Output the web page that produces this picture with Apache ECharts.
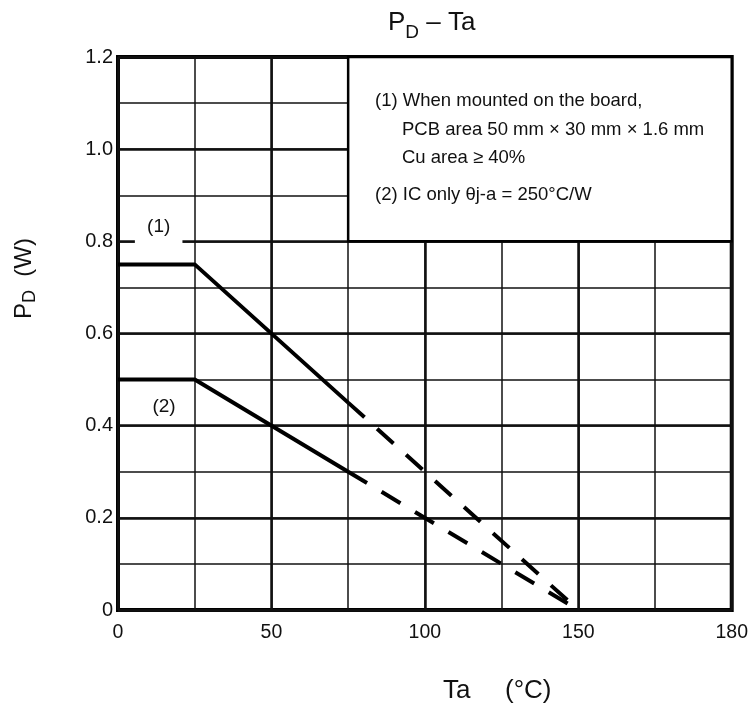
<!DOCTYPE html>
<html>
<head>
<meta charset="utf-8">
<script src="https://cdn.jsdelivr.net/npm/echarts@6/dist/echarts.min.js"></script>
<style>html,body{margin:0;padding:0;background:#fff}#c{width:751px;height:706px}</style>
</head>
<body>
<div id="c"></div>
<script>
// ---- data ----
const xTickValues = [0, 50, 100, 150, 200];
const xTickLabels = ['0', '50', '100', '150', '180'];
const curve1Solid = [[0, 0.75], [25, 0.75], [75, 0.45]];
const curve1Dashed = [[75, 0.45], [150, 0]];
const curve2Solid = [[0, 0.5], [25, 0.5], [75, 0.3]];
const curve2Dashed = [[75, 0.3], [150, 0]];
const noteLines = [
  '(1) When mounted on the board,',
  'PCB area 50 mm \u00d7 30 mm \u00d7 1.6 mm',
  'Cu area \u2265 40%',
  '(2) IC only \u03b8j-a = 250\u00b0C/W'
];
const boxArea = [[75, 0.8], [200, 1.2]];
const label1Area = [[5.5, 0.79], [21, 0.81]];
const label2Pos = [15, 0.44];

const FONT = '"Liberation Sans", Arial, sans-serif';
const chart = echarts.init(document.getElementById('c'));
const lineStyleSolid = { color: '#000', width: 4, type: 'solid', cap: 'butt' };
const lineStyleDash = { color: '#000', width: 4, type: [22, 17], cap: 'butt' };

const option = {
  animation: false,
  backgroundColor: '#fff',
  grid: { left: 118, right: 19, top: 57, bottom: 96, show: true, borderColor: '#000', borderWidth: 4, backgroundColor: 'transparent' },
  xAxis: [
    { type: 'value', min: 0, max: 200, interval: 25, position: 'bottom',
      axisLine: { show: false }, axisTick: { show: false }, axisLabel: { show: false },
      splitLine: { show: true, lineStyle: { color: '#111', width: 1.5 } } },
    { type: 'value', min: 0, max: 200, interval: 50, position: 'bottom',
      axisLine: { show: false }, axisTick: { show: false },
      axisLabel: { show: true, margin: 13, fontSize: 19.5, color: '#111', fontFamily: FONT,
        formatter: v => xTickLabels[xTickValues.indexOf(v)] },
      splitLine: { show: true, lineStyle: { color: '#111', width: 2.5 } } }
  ],
  yAxis: [
    { type: 'value', min: 0, max: 1.2, interval: 0.1,
      axisLine: { show: false }, axisTick: { show: false }, axisLabel: { show: false },
      splitLine: { show: true, lineStyle: { color: '#111', width: 1.5 } } },
    { type: 'value', min: 0, max: 1.2, interval: 0.2, position: 'left',
      axisLine: { show: false }, axisTick: { show: false },
      axisLabel: { show: true, margin: 5, fontSize: 20, color: '#111', fontFamily: FONT,
        formatter: v => v === 0 ? '0' : v.toFixed(1) },
      splitLine: { show: true, lineStyle: { color: '#111', width: 2.5 } } }
  ],
  series: [
    { type: 'line', xAxisIndex: 1, yAxisIndex: 1, data: [], silent: true,
      markArea: { silent: true,
        itemStyle: { color: '#fff', borderColor: '#000', borderWidth: 2.5 },
        data: [[{ coord: boxArea[0] }, { coord: boxArea[1] }]] } },
    { type: 'line', xAxisIndex: 1, yAxisIndex: 1, data: [], silent: true,
      markArea: { silent: true,
        itemStyle: { color: '#fff', borderWidth: 0 },
        label: { show: true, position: 'top', distance: 0, formatter: '(1)', fontSize: 19, color: '#111', fontFamily: FONT },
        data: [[{ coord: label1Area[0] }, { coord: label1Area[1] }]] },
      markPoint: { silent: true, symbol: 'circle', symbolSize: 1, itemStyle: { color: 'transparent' },
        label: { show: true, position: 'inside', formatter: '(2)', fontSize: 19, color: '#111', fontFamily: FONT },
        data: [{ coord: label2Pos }] } },
    { type: 'line', xAxisIndex: 1, yAxisIndex: 1, data: curve1Solid, showSymbol: false, lineStyle: lineStyleSolid, z: 5 },
    { type: 'line', xAxisIndex: 1, yAxisIndex: 1, data: curve1Dashed, showSymbol: false, lineStyle: lineStyleDash, z: 5 },
    { type: 'line', xAxisIndex: 1, yAxisIndex: 1, data: curve2Solid, showSymbol: false, lineStyle: lineStyleSolid, z: 5 },
    { type: 'line', xAxisIndex: 1, yAxisIndex: 1, data: curve2Dashed, showSymbol: false, lineStyle: lineStyleDash, z: 5 }
  ],
  graphic: [
    { type: 'text', left: 388, top: 10, z: 100,
      style: { text: '{p|P}{s|D}{p| \u2013 Ta}', rich: {
        p: { fontSize: 26, fontFamily: FONT, fill: '#111', verticalAlign: 'bottom' },
        s: { fontSize: 19, fontFamily: FONT, fill: '#111', verticalAlign: 'bottom', padding: [0, 0, -6, 0] } } } },
    { type: 'text', left: 443, top: 678, z: 100,
      style: { text: 'Ta', fontSize: 26, fontFamily: FONT, fill: '#111' } },
    { type: 'text', left: 505, top: 678, z: 100,
      style: { text: '(\u00b0C)', fontSize: 26, fontFamily: FONT, fill: '#111' } },
    { type: 'text', x: 9, y: 319, rotation: Math.PI / 2, z: 100,
      style: { text: '{p|P}{s|D}{p|  (W)}', rich: {
        p: { fontSize: 24, fontFamily: FONT, fill: '#111' },
        s: { fontSize: 18, fontFamily: FONT, fill: '#111', padding: [12, 0, 0, 0] } } } },
    { type: 'text', left: 375, top: 91, z: 100, style: { text: noteLines[0], fontSize: 18.5, fontFamily: FONT, fill: '#111' } },
    { type: 'text', left: 402, top: 120, z: 100, style: { text: noteLines[1], fontSize: 18.5, fontFamily: FONT, fill: '#111' } },
    { type: 'text', left: 402, top: 148, z: 100, style: { text: noteLines[2], fontSize: 18.5, fontFamily: FONT, fill: '#111' } },
    { type: 'text', left: 375, top: 185, z: 100, style: { text: noteLines[3], fontSize: 18.5, fontFamily: FONT, fill: '#111' } }
  ]
};
chart.setOption(option);
</script>
</body>
</html>
